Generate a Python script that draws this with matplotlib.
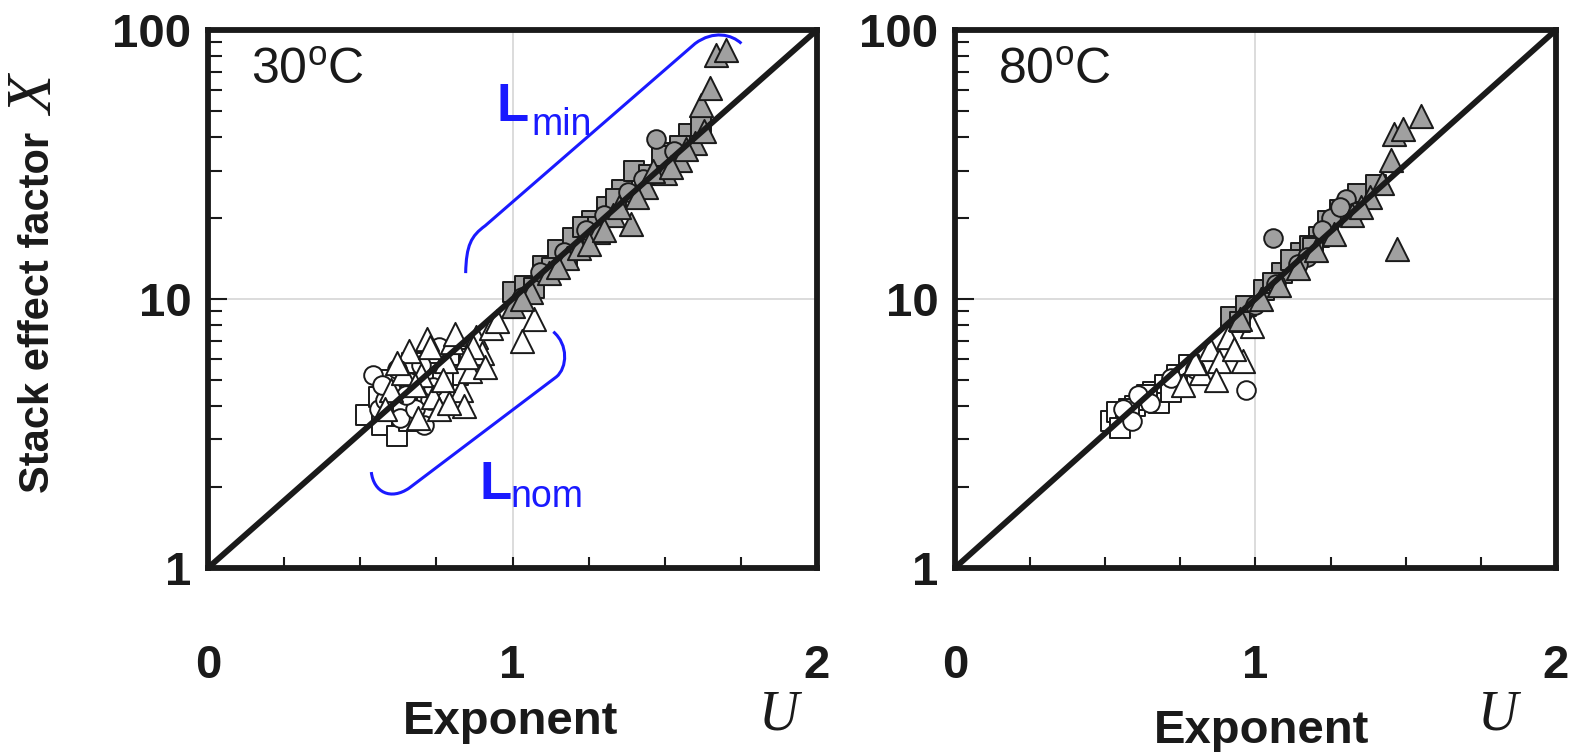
import matplotlib.pyplot as plt
from matplotlib.path import Path
from matplotlib.patches import PathPatch
from matplotlib.ticker import MultipleLocator, LogLocator, NullFormatter

plt.rcParams['font.family'] = ['Liberation Sans', 'DejaVu Sans']
plt.rcParams['mathtext.fontset'] = 'custom'
plt.rcParams['mathtext.rm'] = 'Liberation Sans'

# correlation line X = 10**U
line_u = [0, 2]
line_x = [1, 100]

# 30 C : open symbols (L_nom), grey symbols (L_min)
u30_open_circ = [0.54, 0.56, 0.60, 0.63, 0.66, 0.70, 0.73, 0.58, 0.62, 0.76, 0.68, 0.71,
                 0.57, 0.65, 0.74]
x30_open_circ = [5.2, 3.9, 4.6, 3.6, 4.9, 5.7, 4.2, 4.2, 5.5, 6.6, 3.9, 3.4,
                 4.8, 4.4, 4.7]
u30_open_sq = [0.52, 0.57, 0.62, 0.64, 0.68, 0.71, 0.74, 0.79, 0.67, 0.60, 0.82, 0.86,
               0.56, 0.66, 0.72, 0.77]
x30_open_sq = [3.7, 3.4, 3.1, 4.1, 4.6, 3.9, 5.3, 6.1, 5.8, 5.0, 5.2, 6.0,
               4.3, 3.5, 4.4, 4.9]
u30_open_tri = [0.60, 0.66, 0.70, 0.74, 0.78, 0.80, 0.83, 0.86, 0.88, 0.90, 0.93,
                0.72, 0.76, 0.84, 0.64, 0.69, 0.81, 0.87, 1.03, 1.07, 0.95, 0.58, 0.77,
                0.62, 0.73, 0.79, 0.85, 0.91, 0.68]
x30_open_tri = [4.6, 6.4, 5.2, 4.3, 5.9, 6.9, 4.6, 5.4, 7.2, 6.3, 7.8,
                7.1, 3.9, 4.0, 5.3, 3.6, 7.4, 6.6, 7.0, 8.4, 8.3, 3.9, 5.0,
                5.8, 6.6, 4.1, 6.1, 5.6, 4.8]
u30_grey_tri = [1.00, 1.06, 1.12, 1.18, 1.22, 1.28, 1.33, 1.39, 1.44, 1.50, 1.55,
                1.60, 1.62, 1.65, 1.67, 1.70, 1.35, 1.25, 1.46, 1.57,
                1.03, 1.15, 1.30, 1.41, 1.52, 1.63]
x30_grey_tri = [9.4, 10.6, 12.5, 14.2, 15.5, 17.8, 20.5, 19.0, 26.0, 29.5, 33.0,
                38.0, 52.5, 61.0, 81.0, 84.0, 22.0, 16.0, 30.0, 36.0,
                10.0, 13.2, 18.0, 24.0, 31.0, 42.0]
u30_grey_sq = [1.00, 1.04, 1.10, 1.15, 1.20, 1.26, 1.31, 1.36, 1.40, 1.45, 1.52, 1.58,
               1.13, 1.23, 1.07, 1.18, 1.28, 1.34, 1.49, 1.55, 1.62]
x30_grey_sq = [10.6, 11.2, 13.3, 15.2, 16.8, 19.5, 22.0, 25.5, 30.0, 29.0, 35.0, 41.0,
               13.0, 18.5, 11.0, 14.0, 18.5, 23.5, 34.0, 37.0, 44.0]
u30_grey_circ = [1.03, 1.09, 1.17, 1.24, 1.30, 1.38, 1.47, 1.53, 1.43]
x30_grey_circ = [10.2, 12.6, 15.0, 18.0, 20.5, 25.0, 39.5, 35.5, 28.0]

# 80 C
u80_open_circ = [0.56, 0.61, 0.65, 0.72, 0.80, 0.97, 0.59]
x80_open_circ = [3.9, 4.4, 4.1, 5.1, 5.5, 4.6, 3.5]
u80_open_sq = [0.52, 0.54, 0.57, 0.60, 0.63, 0.66, 0.70, 0.74, 0.78, 0.55, 0.68,
               0.58, 0.64, 0.72]
x80_open_sq = [3.5, 3.8, 3.6, 4.0, 4.2, 4.5, 4.8, 5.2, 5.7, 3.3, 4.1,
               3.9, 4.4, 4.5]
u80_open_tri = [0.76, 0.82, 0.85, 0.88, 0.91, 0.96, 0.99, 0.87, 0.80, 0.93]
x80_open_tri = [4.8, 5.3, 6.5, 5.9, 7.2, 5.9, 7.9, 5.0, 5.8, 6.5]
u80_grey_tri = [0.95, 1.02, 1.08, 1.14, 1.20, 1.26, 1.32, 1.38, 1.42, 1.45, 1.46,
                1.49, 1.55, 1.47, 1.35]
x80_grey_tri = [8.4, 10.0, 11.3, 13.0, 15.2, 17.5, 20.5, 24.0, 27.0, 33.0, 41.0,
                43.0, 48.0, 15.3, 22.0]
u80_grey_sq = [0.92, 0.97, 1.03, 1.09, 1.15, 1.21, 1.24, 1.28, 1.34, 1.40, 1.12, 1.18,
               1.06, 1.19, 1.31, 0.95]
x80_grey_sq = [8.6, 9.4, 10.8, 12.5, 14.8, 17.0, 19.5, 21.5, 24.5, 26.5, 14.0, 15.8,
               11.5, 15.5, 21.0, 8.2]
u80_grey_circ = [1.00, 1.07, 1.17, 1.25, 1.30, 1.33, 1.06, 1.22, 1.28, 1.14]
x80_grey_circ = [9.5, 11.4, 14.3, 20.0, 23.5, 21.0, 16.8, 18.0, 22.0, 13.5]

x_ticks = [0, 1, 2]
y_ticks = [1, 10, 100]
y_labels = ['1', '10', '100']

ink = '#1a1a1a'
grey = '#a0a0a0'
blue = '#1a1aff'

fig = plt.figure(figsize=(15.77, 7.52), dpi=100)
ax1 = fig.add_axes([0.132, 0.245, 0.386, 0.715])
ax2 = fig.add_axes([0.6056, 0.245, 0.381, 0.715])


def setup(ax, label):
    ax.set_xlim(0, 2)
    ax.set_yscale('log')
    ax.set_ylim(1, 100)
    ax.set_xticks(x_ticks)
    ax.set_xticklabels([str(t) for t in x_ticks])
    ax.xaxis.set_minor_locator(MultipleLocator(0.25))
    ax.set_yticks(y_ticks)
    ax.set_yticklabels(y_labels)
    ax.yaxis.set_minor_locator(LogLocator(base=10, subs=range(2, 10)))
    ax.yaxis.set_minor_formatter(NullFormatter())
    ax.tick_params(axis='x', which='both', direction='in', length=8, width=1.5,
                   color=ink, pad=55, labelsize=34)
    ax.tick_params(axis='y', which='major', direction='in', length=14, width=1.5,
                   color=ink, pad=12, labelsize=34)
    ax.tick_params(axis='y', which='minor', direction='in', length=10, width=1.5, color=ink)
    for lab in ax.get_xticklabels() + ax.get_yticklabels():
        lab.set_fontweight('bold')
        lab.set_color(ink)
    for sp in ax.spines.values():
        sp.set_linewidth(4.2)
        sp.set_color(ink)
    ax.grid(True, which='major', color='#dcdcdc', linewidth=1.4, zorder=0)
    ax.set_axisbelow(True)
    ax.text(0.071, 0.90, label, transform=ax.transAxes, fontsize=36, color=ink,
            ha='left', va='baseline')


def points(ax, u, x, marker, face, size):
    ax.scatter(u, x, marker=marker, s=size, facecolor=face, edgecolor=ink,
               linewidth=1.4, zorder=3)


setup(ax1, r'30$^{\mathregular{o}}$C')
setup(ax2, r'80$^{\mathregular{o}}$C')

points(ax1, u30_open_sq, x30_open_sq, 's', 'white', 190)
points(ax1, u30_open_circ, x30_open_circ, 'o', 'white', 180)
points(ax1, u30_open_tri, x30_open_tri, '^', 'white', 280)
points(ax1, u30_grey_sq, x30_grey_sq, 's', grey, 190)
points(ax1, u30_grey_circ, x30_grey_circ, 'o', grey, 180)
points(ax1, u30_grey_tri, x30_grey_tri, '^', grey, 280)

points(ax2, u80_open_sq, x80_open_sq, 's', 'white', 190)
points(ax2, u80_open_circ, x80_open_circ, 'o', 'white', 180)
points(ax2, u80_open_tri, x80_open_tri, '^', 'white', 280)
points(ax2, u80_grey_sq, x80_grey_sq, 's', grey, 190)
points(ax2, u80_grey_circ, x80_grey_circ, 'o', grey, 180)
points(ax2, u80_grey_tri, x80_grey_tri, '^', grey, 280)

for ax in (ax1, ax2):
    ax.plot(line_u, line_x, color=ink, linewidth=4.2, zorder=4, solid_capstyle='butt')

# brackets marking the two groups in the 30 C panel
M, C4, L = Path.MOVETO, Path.CURVE4, Path.LINETO
bracket_min = Path([(0.423, 0.548), (0.424, 0.600), (0.432, 0.617), (0.455, 0.636),
                    (0.800, 0.975), (0.830, 1.000), (0.860, 0.992), (0.876, 0.975)],
                   [M, C4, C4, C4, L, C4, C4, C4])
bracket_nom = Path([(0.268, 0.178), (0.272, 0.140), (0.300, 0.125), (0.330, 0.148),
                    (0.572, 0.355), (0.590, 0.372), (0.592, 0.415), (0.567, 0.439)],
                   [M, C4, C4, C4, L, C4, C4, C4])
for p in (bracket_min, bracket_nom):
    ax1.add_patch(PathPatch(p, transform=ax1.transAxes, facecolor='none',
                            edgecolor=blue, linewidth=2.2, zorder=5))

ax1.text(0.473, 0.830, 'L', transform=ax1.transAxes, fontsize=38, fontweight='bold',
         color=blue, ha='left', va='baseline')
ax1.text(0.531, 0.804, 'min', transform=ax1.transAxes, fontsize=27,
         color=blue, ha='left', va='baseline')
ax1.text(0.446, 0.127, 'L', transform=ax1.transAxes, fontsize=38, fontweight='bold',
         color=blue, ha='left', va='baseline')
ax1.text(0.496, 0.113, 'nom', transform=ax1.transAxes, fontsize=27,
         color=blue, ha='left', va='baseline')

# axis titles
fig.text(0.024, 0.584, 'Stack effect factor', rotation=90, fontsize=30,
         fontweight='bold', color=ink, ha='center', va='center')
fig.text(0.024, 0.872, 'X', rotation=90, fontsize=46, family='Liberation Serif',
         style='italic', color=ink, ha='center', va='center')
fig.text(0.324, 0.040, 'Exponent', fontsize=34, fontweight='bold', color=ink,
         ha='center', va='center')
fig.text(0.494, 0.048, 'U', fontsize=40, family='Liberation Serif', style='italic',
         color=ink, ha='center', va='center')
fig.text(0.800, 0.028, 'Exponent', fontsize=34, fontweight='bold', color=ink,
         ha='center', va='center')
fig.text(0.950, 0.048, 'U', fontsize=40, family='Liberation Serif', style='italic',
         color=ink, ha='center', va='center')

fig.savefig('out.png', dpi=100)
